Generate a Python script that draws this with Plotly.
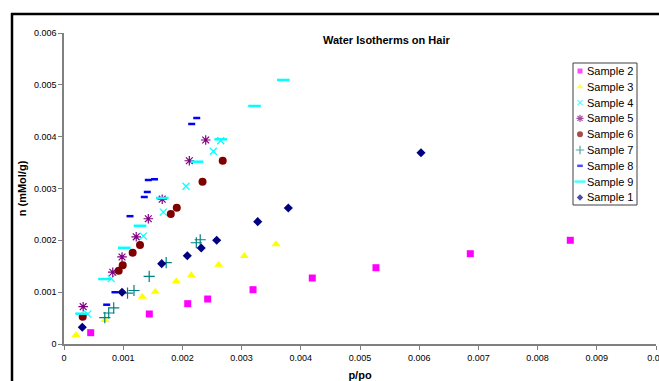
import plotly.graph_objects as go

# ---- data (x in p/po, y in mMol/g) ----
s1_x = [0.000309, 0.000980, 0.001650, 0.002083, 0.002318, 0.002579, 0.003272, 0.003789, 0.006030]
s1_y = [0.000324, 0.000998, 0.001550, 0.001704, 0.001852, 0.002003, 0.002360, 0.002624, 0.003691]

s2_x = [0.000451, 0.001441, 0.002090, 0.002427, 0.003193, 0.004194, 0.005270, 0.006863, 0.008552]
s2_y = [0.000218, 0.000579, 0.000778, 0.000868, 0.001048, 0.001273, 0.001472, 0.001742, 0.002001]

s3_x = [0.000203, 0.000693, 0.001323, 0.001542, 0.001897, 0.002150, 0.002613, 0.003046, 0.003581]
s3_y = [0.000174, 0.000463, 0.000913, 0.001009, 0.001212, 0.001325, 0.001530, 0.001698, 0.001924]

s4_x = [0.000400, 0.000799, 0.001340, 0.001677, 0.002061, 0.002522, 0.002647]
s4_y = [0.000575, 0.001260, 0.002080, 0.002543, 0.003043, 0.003718, 0.003922]

s5_x = [0.000324, 0.000824, 0.000980, 0.001220, 0.001424, 0.001659, 0.002117, 0.002394]
s5_y = [0.000720, 0.001385, 0.001679, 0.002068, 0.002416, 0.002794, 0.003535, 0.003936]

s6_x = [0.000316, 0.000924, 0.000992, 0.001160, 0.001284, 0.001804, 0.001905, 0.002340, 0.002681]
s6_y = [0.000525, 0.001414, 0.001518, 0.001762, 0.001910, 0.002508, 0.002628, 0.003131, 0.003537]

s7_x = [0.000689, 0.000755, 0.000840, 0.001073, 0.001182, 0.001439, 0.001726, 0.002235, 0.002301]
s7_y = [0.000507, 0.000598, 0.000698, 0.000980, 0.001032, 0.001306, 0.001571, 0.001953, 0.002011]

s8_x = [0.000721, 0.000861, 0.001115, 0.001356, 0.001407, 0.001424, 0.001529, 0.002157, 0.002242]
s8_y = [0.000758, 0.000999, 0.002466, 0.002836, 0.002933, 0.003164, 0.003178, 0.004245, 0.004360]

s9_x = [0.000296, 0.000684, 0.001019, 0.001284, 0.001660, 0.002247, 0.002647, 0.003218, 0.003704]
s9_y = [0.000585, 0.001254, 0.001856, 0.002281, 0.002817, 0.003517, 0.003949, 0.004592, 0.005094]

x_ticks = [0, 0.001, 0.002, 0.003, 0.004, 0.005, 0.006, 0.007, 0.008, 0.009, 0.01]
x_ticktext = ["0", "0.001", "0.002", "0.003", "0.004", "0.005", "0.006", "0.007", "0.008", "0.009", "0.01"]
y_ticks = [0, 0.001, 0.002, 0.003, 0.004, 0.005, 0.006]
y_ticktext = ["0", "0.001", "0.002", "0.003", "0.004", "0.005", "0.006"]

FONT = "Arial, Liberation Sans, Arimo, sans-serif"

series = [
    ("Sample 2", s2_x, s2_y, dict(symbol="square", size=7, color="#FF00FF", line=dict(width=0))),
    ("Sample 3", s3_x, s3_y, dict(symbol="triangle-up", size=8, color="#FFFF00", line=dict(width=0))),
    ("Sample 4", s4_x, s4_y, dict(symbol="x-thin-open", size=7, color="#00FFFF", line=dict(width=1.2, color="#00FFFF"))),
    ("Sample 5", s5_x, s5_y, dict(symbol="asterisk-open", size=8, color="#800080", line=dict(width=1.2, color="#800080"))),
    ("Sample 6", s6_x, s6_y, dict(symbol="circle", size=8, color="#800000", line=dict(width=0))),
    ("Sample 7", s7_x, s7_y, dict(symbol="cross-thin-open", size=8, color="#008080", line=dict(width=1.2, color="#008080"))),
    ("Sample 8", s8_x, s8_y, dict(symbol="line-ew-open", size=5, color="#0000FF", line=dict(width=2.5, color="#0000FF"))),
    ("Sample 9", s9_x, s9_y, dict(symbol="line-ew-open", size=9, color="#00FFFF", line=dict(width=2.5, color="#00FFFF"))),
    ("Sample 1", s1_x, s1_y, dict(symbol="diamond", size=7, color="#000080", line=dict(width=0))),
]

W, H = 659, 381
L, R, T, B = 64, 3, 33, 37
pw, ph = W - L - R, H - T - B

def px(xp):
    return (xp - L) / pw

def py(yp):
    return (H - B - yp) / ph

fig = go.Figure()
for name, xs, ys, mk in series:
    fig.add_trace(go.Scatter(x=xs, y=ys, mode="markers", name=name, marker=mk,
                             cliponaxis=False, showlegend=False))

# ---- custom legend (pixel-layout overlay axis) ----
LEG_BOX = (573, 63, 637, 205)
LEG_Y0, LEG_DY = 71, 15.8
LEG_SYM_X, LEG_TXT_X = 580, 585
legend_names = [s[0] for s in series]
legend_ys = [LEG_Y0 + i * LEG_DY for i in range(len(series))]
leg_symbols, leg_colors, leg_sizes, leg_lw = [], [], [], []
for name, xs, ys, mk in series:
    leg_symbols.append(mk["symbol"])
    leg_colors.append(mk["color"])
    sz = mk["size"]
    leg_sizes.append(max(4, sz - 2) if mk["symbol"] != "line-ew-open" else sz - 1)
    leg_lw.append(mk["line"]["width"])

fig.add_trace(go.Scatter(
    x=[LEG_SYM_X] * len(series), y=legend_ys, xaxis="x2", yaxis="y2", mode="markers",
    marker=dict(symbol=leg_symbols, color=leg_colors, size=leg_sizes,
                line=dict(width=[w if w > 0 else 0 for w in leg_lw], color=leg_colors)),
    showlegend=False, hoverinfo="skip", cliponaxis=False,
))

annotations = [
    dict(text="<b>Water Isotherms on Hair</b>", xref="paper", yref="paper",
         x=px(386), y=py(40), xanchor="center", yanchor="middle", showarrow=False,
         font=dict(family=FONT, size=11, color="#000000")),
]
for name, yy in zip(legend_names, legend_ys):
    annotations.append(dict(text=name, xref="x2", yref="y2", x=LEG_TXT_X, y=yy,
                            xanchor="left", yanchor="middle", showarrow=False,
                            font=dict(family=FONT, size=11, color="#000000")))

fig.update_layout(
    width=W, height=H,
    margin=dict(l=L, r=R, t=T, b=B, pad=0, autoexpand=False),
    paper_bgcolor="white", plot_bgcolor="white",
    font=dict(family=FONT, size=10, color="#000000"),
    showlegend=False,
    xaxis=dict(
        range=[0, 0.01], tickmode="array", tickvals=x_ticks, ticktext=x_ticktext,
        showgrid=False, zeroline=False, showline=True, linecolor="#808080", linewidth=1.5,
        ticks="outside", ticklen=4, tickcolor="#808080", tickwidth=1, automargin=False,
        ticklabeloverflow="allow",
        tickfont=dict(family=FONT, size=9, color="#000000"),
        title=dict(text="<b>p/po</b>", font=dict(family=FONT, size=11, color="#000000"), standoff=16),
    ),
    yaxis=dict(
        range=[0, 0.006], tickmode="array", tickvals=y_ticks, ticktext=y_ticktext,
        showgrid=False, zeroline=False, showline=True, linecolor="#808080", linewidth=1.5,
        ticks="outside", ticklen=4, tickcolor="#808080", tickwidth=1, automargin=False,
        tickfont=dict(family=FONT, size=9, color="#000000"),
        title=dict(text="<b>n (mMol/g)</b>", font=dict(family=FONT, size=11, color="#000000"), standoff=5),
    ),
    xaxis2=dict(overlaying="x", range=[L, W - R], visible=False, fixedrange=True),
    yaxis2=dict(overlaying="y", range=[H - B, T], visible=False, fixedrange=True),
    annotations=annotations,
    shapes=[
        dict(type="line", xref="paper", yref="paper", x0=px(11), x1=px(W + 5), y0=py(14), y1=py(14),
             line=dict(color="black", width=2.5)),
        dict(type="line", xref="paper", yref="paper", x0=px(12), x1=px(12), y0=py(13), y1=py(H + 5),
             line=dict(color="black", width=2.5)),
        dict(type="rect", xref="x2", yref="y2", x0=LEG_BOX[0], y0=LEG_BOX[1], x1=LEG_BOX[2], y1=LEG_BOX[3],
             line=dict(color="#404040", width=1), fillcolor="white", layer="below"),
    ],
)

fig.write_html("out.html", config={"displayModeBar": False},
               post_script="document.body.style.margin='0';document.body.style.overflow='hidden';")
